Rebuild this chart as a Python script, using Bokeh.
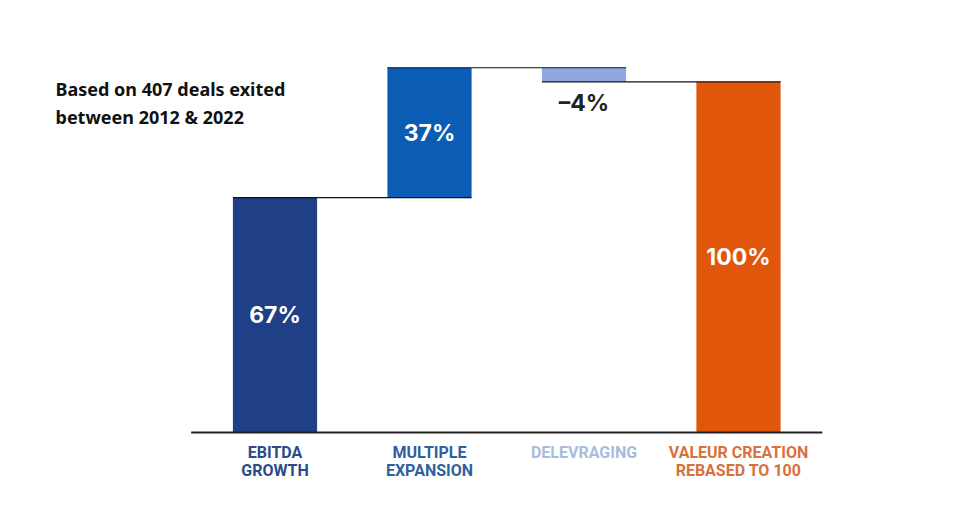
from bokeh.plotting import figure
from bokeh.models import ColumnDataSource, Label
from bokeh.embed import file_html
from bokeh.resources import INLINE
from bokeh.core.properties import value

categories = ["EBITDA\nGROWTH", "MULTIPLE\nEXPANSION", "DELEVRAGING", "VALEUR CREATION\nREBASED TO 100"]
values = [67, 37, -4, 100]
value_labels = ["67%", "37%", "–4%", "100%"]
is_total = [False, False, False, True]
note_lines = ["Based on 407 deals exited", "between 2012 & 2022"]

bar_colors = ["#1f3f87", "#0a5cb5", "#8fa8e0", "#e0560a"]
label_colors = ["#2b4a8a", "#2f5f9f", "#a9bcdc", "#d8703c"]
value_text_colors = ["white", "white", "#222222", "white"]

W, H = 957, 509
PX_X = 154.5
PX_Y = 3.507
first_center_px = 274.5
base_px = 432
x0 = -first_center_px / PX_X
x1 = x0 + W / PX_X
y1 = base_px / PX_Y
y0 = -(H - base_px) / PX_Y

def px_x(px):
    return x0 + px / PX_X

def px_y(py):
    return (base_px - py) / PX_Y

# waterfall geometry
bottoms, tops = [], []
running = 0
for v, t in zip(values, is_total):
    if t:
        bottoms.append(0); tops.append(v); running = v
    else:
        lo, hi = sorted([running, running + v])
        bottoms.append(lo); tops.append(hi); running += v

xs = list(range(len(categories)))
bw = 0.545
mid = [(b + t) / 2 for b, t in zip(bottoms, tops)]

p = figure(width=W, height=H, x_range=(x0, x1), y_range=(y0, y1),
           output_backend="svg", toolbar_location=None,
           min_border=0, min_border_left=0, min_border_right=0,
           min_border_top=0, min_border_bottom=0)
p.axis.visible = False
p.grid.visible = False
p.outline_line_color = None
p.background_fill_color = "white"
p.border_fill_color = "white"

src = ColumnDataSource(dict(x=xs, bottom=bottoms, top=tops, color=bar_colors))
p.vbar(x="x", width=bw, bottom="bottom", top="top", fill_color="color",
       line_color=None, source=src)

# connectors
levels = []
running = 0
for v, t in zip(values, is_total):
    running = v if t else running + v
    levels.append(running)
cx0 = [i - bw / 2 for i in range(len(categories) - 1)]
cx1 = [i + 1 + bw / 2 for i in range(len(categories) - 1)]
cy = levels[:-1]
p.segment(x0=cx0, y0=cy, x1=cx1, y1=cy, line_color="#111111", line_width=1.2)

# baseline
p.segment(x0=[-bw / 2 - 0.27], y0=[0], x1=[len(categories) - 1 + bw / 2 + 0.27], y1=[0],
          line_color="#222222", line_width=2)

# value labels
vy = []
vyo = []
for i, v in enumerate(values):
    if v < 0:
        vy.append(bottoms[i]); vyo.append(21)
    else:
        vy.append(mid[i]); vyo.append(0)
vsrc = ColumnDataSource(dict(x=xs, y=vy, yo=vyo, text=value_labels, color=value_text_colors))
p.text(x="x", y="y", y_offset="yo", text="text", text_color="color", source=vsrc,
       text_align="center", text_baseline="middle",
       text_font=value("Inter"), text_font_size="23px", text_font_style="bold")

# category labels
line1 = [c.split("\n")[0] for c in categories]
line2 = [c.split("\n")[1] if "\n" in c else "" for c in categories]
csrc = ColumnDataSource(dict(x=xs, y=[0] * len(xs), l1=line1, l2=line2, color=label_colors))
p.text(x="x", y="y", text="l1", y_offset=20, text_color="color", source=csrc,
       text_align="center", text_baseline="middle",
       text_font=value("Roboto"), text_font_size="16px", text_font_style="bold")
p.text(x="x", y="y", text="l2", y_offset=38, text_color="color", source=csrc,
       text_align="center", text_baseline="middle",
       text_font=value("Roboto"), text_font_size="16px", text_font_style="bold")

# note
for k, line in enumerate(note_lines):
    p.add_layout(Label(x=px_x(55), y=px_y(88 + 28 * k), text=line,
                       text_align="left", text_baseline="middle",
                       text_font="Noto Sans", text_font_size="18px",
                       text_font_style="bold", text_color="#111111"))

open("out.html", "w").write(file_html(p, INLINE))
